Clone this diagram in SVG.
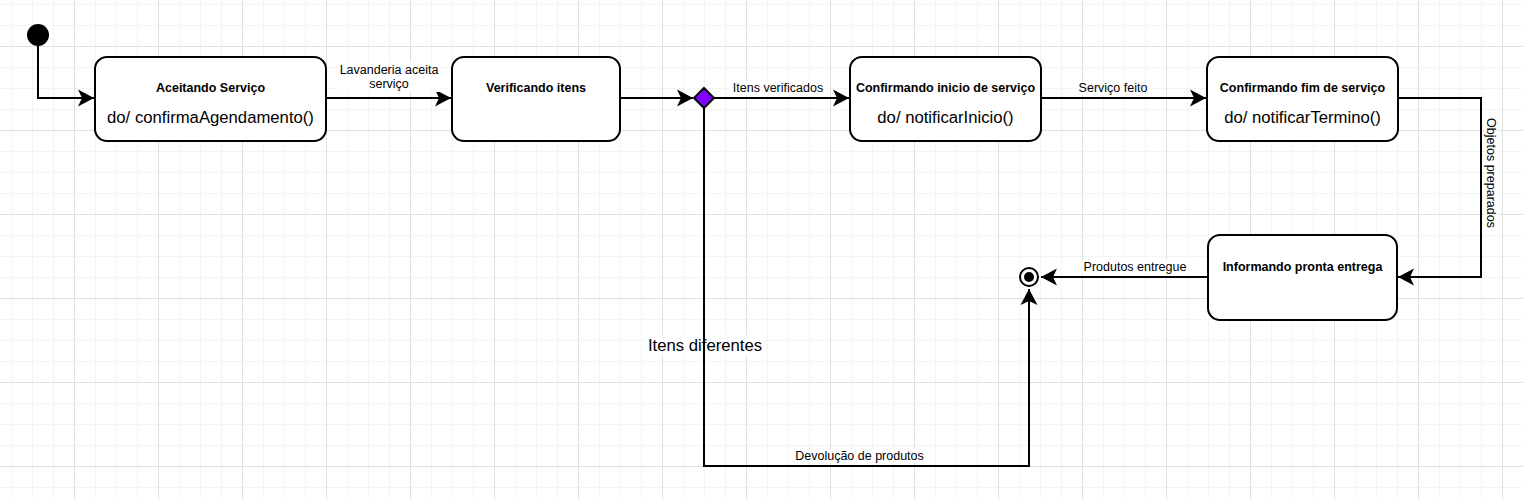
<svg xmlns="http://www.w3.org/2000/svg" width="1523" height="499" viewBox="0 0 1523 499">
<style>
.node rect{fill:#fff;stroke:#000;stroke-width:2}
.t{font-family:"Liberation Sans",Arial,sans-serif;fill:#000;text-anchor:middle}
.b{font-size:12.5px;font-weight:bold}
.d{font-size:16.7px}
.l{font-size:12.5px}
.e{fill:none;stroke:#000;stroke-width:2}
.bg{fill:#fff}
</style>
<defs>
<pattern id="grid" patternUnits="userSpaceOnUse" x="-10" y="-38" width="84" height="84">
<path d="M21.5 0V84M42.5 0V84M63.5 0V84M0 21.5H84M0 42.5H84M0 63.5H84" stroke="#f4f4f4" stroke-width="1" fill="none"/>
<path d="M0.5 0V84M0 0.5H84" stroke="#e0e0e0" stroke-width="1" fill="none"/>
</pattern>
<marker id="arr" markerUnits="userSpaceOnUse" viewBox="-17 -9 18 18" refX="0" refY="0" markerWidth="18" markerHeight="18" orient="auto">
<path d="M0 0L-16 -8.5L-12 0L-16 8.5Z" fill="#000"/>
</marker>
</defs>
<rect width="1523" height="499" fill="#fff"/>
<rect width="1523" height="499" fill="url(#grid)"/>

<g id="edges">
<path class="e" d="M38 46V98H94" marker-end="url(#arr)"/>
<path class="e" d="M326 98H451" marker-end="url(#arr)"/>
<rect class="bg" x="338" y="62" width="102" height="30"/>
<text class="t l" x="389" y="74">Lavanderia aceita</text>
<text class="t l" x="389" y="88">serviço</text>
<path class="e" d="M620 98H693" marker-end="url(#arr)"/>
<path class="e" d="M714 98H849" marker-end="url(#arr)"/>
<rect class="bg" x="730" y="81" width="96" height="14"/>
<text class="t l" x="778" y="92">Itens verificados</text>
<path class="e" d="M1041 98H1206" marker-end="url(#arr)"/>
<rect class="bg" x="1076" y="81" width="74" height="14"/>
<text class="t l" x="1113" y="92">Serviço feito</text>
<path class="e" d="M1398 98H1481V277H1398" marker-end="url(#arr)"/>
<rect class="bg" x="1484" y="116" width="14" height="114"/>
<text class="t l" transform="translate(1491 173) rotate(90)" x="0" y="4">Objetos preparados</text>
<path class="e" d="M1207 277H1041" marker-end="url(#arr)"/>
<rect class="bg" x="1081" y="260" width="108" height="14"/>
<text class="t l" x="1135" y="271">Produtos entregue</text>
<rect class="bg" x="646" y="335" width="118" height="20"/>
<path class="e" d="M704 108V466H1029V289" marker-end="url(#arr)"/>
<text class="t d" x="705" y="351">Itens diferentes</text>
<rect class="bg" x="793" y="449" width="133" height="14"/>
<text class="t l" x="859.5" y="460">Devolução de produtos</text>
</g>

<g id="initial"><circle cx="38" cy="35" r="11" fill="#000"/></g>

<g id="aceitando" class="node">
<rect x="95" y="57" width="231" height="84" rx="12"/>
<text class="t b" x="210.5" y="92">Aceitando Serviço</text>
<text class="t d" x="210.5" y="123">do/ confirmaAgendamento()</text>
</g>

<g id="verificando" class="node">
<rect x="452" y="57" width="168" height="84" rx="12"/>
<text class="t b" x="536" y="92">Verificando itens</text>
</g>

<g id="decisao"><path d="M704 88L714 98L704 108L694 98Z" fill="#7f00ff" stroke="#000" stroke-width="2"/></g>

<g id="confirmando-inicio" class="node">
<rect x="850" y="57" width="191" height="84" rx="12"/>
<text class="t b" x="945.5" y="92">Confirmando inicio de serviço</text>
<text class="t d" x="945.5" y="123">do/ notificarInicio()</text>
</g>

<g id="confirmando-fim" class="node">
<rect x="1207" y="57" width="191" height="84" rx="12"/>
<text class="t b" x="1302.5" y="92">Confirmando fim de serviço</text>
<text class="t d" x="1302.5" y="123">do/ notificarTermino()</text>
</g>

<g id="informando" class="node">
<rect x="1208" y="235" width="189" height="85" rx="12"/>
<text class="t b" x="1302.5" y="271">Informando pronta entrega</text>
</g>

<g id="final">
<circle cx="1029" cy="277" r="9" fill="#fff" stroke="#000" stroke-width="2"/>
<circle cx="1029" cy="277" r="5" fill="#000"/>
</g>
</svg>
